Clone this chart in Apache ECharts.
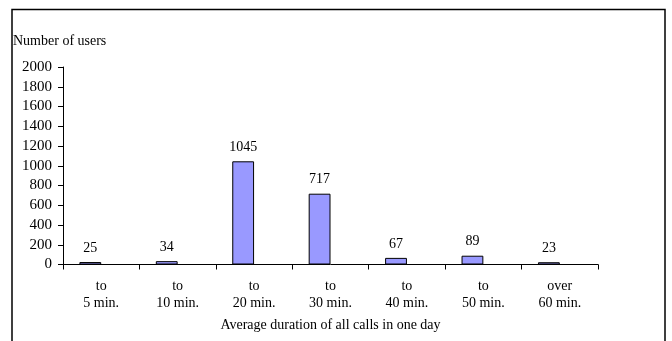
<!DOCTYPE html>
<html><head><meta charset="utf-8">
<script src="https://cdn.jsdelivr.net/npm/echarts@6/dist/echarts.min.js"></script>
<style>html,body{margin:0;padding:0;background:#fff}#c{width:672px;height:341px}</style>
</head><body><div id="c"></div>
<script>
const categories = ['to\n5 min.', 'to\n10 min.', 'to\n20 min.', 'to\n30 min.', 'to\n40 min.', 'to\n50 min.', 'over\n60 min.'];
const users = [25, 34, 1045, 717, 67, 89, 23];
const emptySeries = ['-', '-', '-', '-', '-', '-', '-'];
const yTitle = 'Number of users';
const xTitle = 'Average duration of all calls in one day';

const F = 'Liberation Serif, Times New Roman, serif';
const chart = echarts.init(document.getElementById('c'), null, {renderer: 'canvas'});
chart.setOption({
  animation: false,
  backgroundColor: '#fff',
  title: {text: yTitle, left: 13, top: 34, padding: 0,
    textStyle: {fontFamily: F, fontSize: 14, fontWeight: 'normal', color: '#000'}},
  graphic: [{type: 'rect', shape: {x: 12, y: 9.5, width: 653, height: 400},
    style: {fill: 'none', stroke: '#000', lineWidth: 1.5}, silent: true}],
  grid: {left: 63, right: 74, top: 67, bottom: 76.5, containLabel: false},
  xAxis: {
    type: 'category', data: categories,
    name: xTitle, nameLocation: 'middle', nameGap: 54,
    nameTextStyle: {fontFamily: F, fontSize: 14, color: '#000'},
    axisLine: {lineStyle: {color: '#000', width: 1}},
    axisTick: {show: true, alignWithLabel: false, length: 5, lineStyle: {color: '#000'}},
    axisLabel: {fontFamily: F, fontSize: 14, color: '#000', margin: 13, lineHeight: 17, interval: 0}
  },
  yAxis: {
    type: 'value', min: 0, max: 2000, interval: 200,
    axisLine: {show: true, lineStyle: {color: '#000', width: 1}},
    axisTick: {show: true, length: 5, lineStyle: {color: '#000'}},
    splitLine: {show: false},
    axisLabel: {fontFamily: F, fontSize: 15, color: '#000', margin: 11, formatter: v => String(v)}
  },
  series: [
    {type: 'bar', data: users, barGap: 0, barCategoryGap: '42.9%',
      itemStyle: {color: '#9999FF', borderColor: '#000', borderWidth: 1},
      label: {show: true, position: 'top', distance: 7, fontFamily: F, fontSize: 14, color: '#000'}},
    {type: 'bar', data: emptySeries, barGap: 0, barCategoryGap: '42.9%'}
  ]
});
</script></body></html>
